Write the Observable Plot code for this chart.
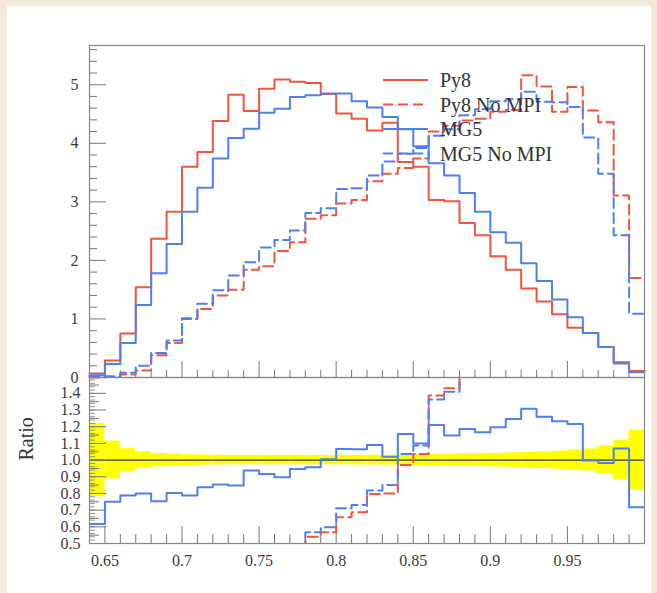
<!DOCTYPE html>
<html><head><meta charset="utf-8">
<script src="https://cdn.jsdelivr.net/npm/d3@7"></script>
<script src="https://cdn.jsdelivr.net/npm/@observablehq/plot@0.6"></script>
<style>
html,body{margin:0;padding:0;background:#f4eadc;}
#page{position:relative;width:657px;height:593px;background:#f4eadc;overflow:hidden;}
#panel{position:absolute;left:7px;top:6px;width:644px;height:587px;background:#fff;}
.layer{position:absolute;left:0;top:0;}
</style></head><body>
<div id="page"><div id="panel"></div></div>
<script>
// ---- data (bin lower edges, bin width 0.01) ----
const binLo = [0.64,0.65,0.66,0.67,0.68,0.69,0.70,0.71,0.72,0.73,0.74,0.75,0.76,0.77,0.78,0.79,0.80,0.81,0.82,0.83,0.84,0.85,0.86,0.87,0.88,0.89,0.90,0.91,0.92,0.93,0.94,0.95,0.96,0.97,0.98,0.99];
const xMax = 1.0;
const py8 = [0.07,0.29,0.75,1.54,2.37,2.83,3.60,3.85,4.38,4.83,4.55,4.93,5.09,5.05,5.03,4.84,4.51,4.42,4.22,4.35,3.68,3.60,3.03,3.01,2.64,2.43,2.07,1.84,1.52,1.30,1.08,0.85,0.76,0.52,0.26,0.11];
const py8NoMPI = [0.00,0.01,0.05,0.12,0.38,0.59,1.00,1.17,1.40,1.50,1.84,1.90,2.16,2.31,2.71,2.77,2.97,3.03,3.35,3.48,3.58,3.74,4.20,4.30,4.39,4.42,4.54,4.57,5.16,4.97,4.54,4.96,4.56,4.36,3.11,1.70];
const mg5 = [0.04,0.23,0.59,1.24,1.78,2.28,2.83,3.24,3.74,4.09,4.25,4.52,4.59,4.79,4.82,4.85,4.85,4.72,4.61,4.45,4.24,3.95,3.66,3.45,3.15,2.83,2.48,2.30,1.95,1.65,1.33,1.03,0.76,0.52,0.24,0.09];
const mg5NoMPI = [0.02,0.02,0.08,0.20,0.42,0.63,1.01,1.26,1.49,1.74,1.97,2.22,2.35,2.51,2.81,2.89,3.22,3.23,3.45,3.69,3.82,3.92,4.13,4.24,4.48,4.58,4.72,4.75,4.88,4.71,4.70,4.62,4.10,3.48,2.43,1.09];
// ratios to Py8
const ratioMG5 = [0.617,0.75,0.787,0.80,0.753,0.803,0.787,0.837,0.853,0.847,0.937,0.917,0.897,0.947,0.957,1.005,1.067,1.065,1.09,1.02,1.157,1.10,1.21,1.147,1.187,1.167,1.197,1.247,1.307,1.26,1.233,1.217,0.997,0.983,1.07,0.717];
const ratioPy8NoMPI = [0.00,0.03,0.07,0.08,0.16,0.21,0.28,0.30,0.32,0.31,0.40,0.39,0.42,0.46,0.54,0.567,0.657,0.687,0.797,0.80,0.971,1.037,1.387,1.43,1.66,1.82,2.19,2.48,3.39,3.82,4.20,5.84,6.00,8.38,11.96,15.45];
const ratioMG5NoMPI = [0.29,0.07,0.11,0.13,0.18,0.22,0.28,0.33,0.34,0.36,0.43,0.45,0.46,0.48,0.567,0.597,0.711,0.731,0.817,0.851,1.037,1.087,1.363,1.41,1.70,1.88,2.28,2.58,3.21,3.62,4.35,5.44,5.39,6.69,9.35,9.9];
const ratioErr = [0.22,0.113,0.068,0.05,0.04,0.035,0.032,0.03,0.029,0.028,0.028,0.028,0.028,0.028,0.028,0.028,0.028,0.029,0.029,0.03,0.031,0.032,0.033,0.035,0.037,0.039,0.041,0.044,0.047,0.05,0.054,0.06,0.066,0.085,0.12,0.18];
const legendLabels = ["Py8","Py8 No MPI","MG5","MG5 No MPI"];
const xTicks = [0.65,0.7,0.75,0.8,0.85,0.9,0.95];
const yTopTicks = [0,1,2,3,4,5];
const yRatioTicks = [0.5,0.6,0.7,0.8,0.9,1.0,1.1,1.2,1.3,1.4];

// ---- styles ----
const RED = "#f2553e", BLUE = "#4f7ff5", DASH = "10,5";
const FONT = "'Liberation Serif','Times New Roman',serif";
const W = 657, ML = 89, MR = 13;
const plotW = W - ML - MR;

const steps = vals => binLo.map((x,i)=>({x, y: vals[i]})).concat([{x: xMax, y: vals[vals.length-1]}]);
const xMinor = d3.range(1, 36).map(i => binLo[i]).filter(v => !xTicks.some(t => Math.abs(t - v) < 1e-6));
const topMinorY = d3.range(0.2, 5.67, 0.2).filter(v => Math.abs(v - Math.round(v)) > 1e-6);
const ratioMinorY = d3.range(0.52, 1.49, 0.02);
const ratioMidY = d3.range(0.55, 1.49, 0.1);

const page = document.getElementById("page");

// ---- top panel ----
const topH = 400, topMT = 45, topMB = 23, topInner = topH - topMT - topMB;
const topPlot = Plot.plot({
  width: W, height: topH,
  marginLeft: ML, marginRight: MR, marginTop: topMT, marginBottom: topMB,
  style: {background: "transparent", fontFamily: FONT, fontSize: "16px", color: "#3a3a3a"},
  x: {domain: [0.64, xMax], axis: null},
  y: {domain: [0, 5.67], ticks: yTopTicks, tickSize: 0, tickPadding: 11, tickFormat: d => String(d), label: null},
  marks: [
    Plot.tickX(xMinor, {x: d => d, insetTop: topInner - 7, stroke: "#777", strokeWidth: 1}),
    Plot.tickX(xTicks, {x: d => d, insetTop: topInner - 16, stroke: "#777", strokeWidth: 1}),
    Plot.tickY(topMinorY, {y: d => d, insetRight: plotW - 8, stroke: "#777", strokeWidth: 1}),
    Plot.tickY(yTopTicks, {y: d => d, insetRight: plotW - 17, stroke: "#777", strokeWidth: 1}),
    Plot.line(steps(py8NoMPI), {x: "x", y: "y", curve: "step-after", stroke: RED, strokeWidth: 2, strokeDasharray: DASH}),
    Plot.line(steps(mg5NoMPI), {x: "x", y: "y", curve: "step-after", stroke: BLUE, strokeWidth: 2, strokeDasharray: DASH}),
    Plot.line(steps(py8), {x: "x", y: "y", curve: "step-after", stroke: RED, strokeWidth: 2}),
    Plot.line(steps(mg5), {x: "x", y: "y", curve: "step-after", stroke: BLUE, strokeWidth: 2}),
    Plot.frame({stroke: "#888", strokeWidth: 1.2})
  ]
});
topPlot.classList.add("layer");
page.appendChild(topPlot);

// ---- ratio panel ----
const botH = 593, botMT = 377, botMB = 50, botInner = botH - botMT - botMB;
const band = binLo.map((x,i) => ({x1: x, x2: i < binLo.length-1 ? binLo[i+1] : xMax, lo: 1 - ratioErr[i], hi: 1 + ratioErr[i]}));
const botPlot = Plot.plot({
  width: W, height: botH,
  marginLeft: ML, marginRight: MR, marginTop: botMT, marginBottom: botMB,
  style: {background: "transparent", fontFamily: FONT, fontSize: "16px", color: "#3a3a3a"},
  x: {domain: [0.64, xMax], ticks: xTicks, tickSize: 0, tickPadding: 11, tickFormat: d => String(d), label: null},
  y: {domain: [0.5, 1.495], ticks: yRatioTicks, tickSize: 0, tickPadding: 9, tickFormat: d => d.toFixed(1), label: null},
  marks: [
    Plot.rect(band, {x1: "x1", x2: "x2", y1: "lo", y2: "hi", fill: "#ffff00"}),
    Plot.ruleY([1], {stroke: "#333", strokeWidth: 1.2}),
    Plot.tickX(xMinor, {x: d => d, insetTop: botInner - 9, stroke: "#777", strokeWidth: 1}),
    Plot.tickX(xTicks, {x: d => d, insetTop: botInner - 17, stroke: "#777", strokeWidth: 1}),
    Plot.tickY(ratioMinorY, {y: d => d, insetRight: plotW - 6, stroke: "#777", strokeWidth: 0.8}),
    Plot.tickY(ratioMidY, {y: d => d, insetRight: plotW - 10, stroke: "#777", strokeWidth: 1}),
    Plot.tickY(yRatioTicks, {y: d => d, insetRight: plotW - 17, stroke: "#777", strokeWidth: 1}),
    Plot.line(steps(ratioPy8NoMPI), {x: "x", y: "y", curve: "step-after", stroke: RED, strokeWidth: 2, strokeDasharray: DASH, clip: true}),
    Plot.line(steps(ratioMG5NoMPI), {x: "x", y: "y", curve: "step-after", stroke: BLUE, strokeWidth: 2, strokeDasharray: DASH, clip: true}),
    Plot.line(steps(ratioMG5), {x: "x", y: "y", curve: "step-after", stroke: BLUE, strokeWidth: 2, clip: true}),
    Plot.text(["Ratio"], {frameAnchor: "left", dx: -63, rotate: -90, fontSize: 20, fill: "#333", text: d => d}),
    Plot.frame({stroke: "#888", strokeWidth: 1.2})
  ]
});
botPlot.classList.add("layer");
page.appendChild(botPlot);

// ---- legend overlay ----
const legendStyle = [
  {color: RED, dash: null}, {color: RED, dash: DASH},
  {color: BLUE, dash: null}, {color: BLUE, dash: DASH}
];
const lg = d3.select(page).append("svg").attr("class", "layer").attr("width", W).attr("height", 200);
legendLabels.forEach((label, i) => {
  const y = 80 + i * 24.5;
  const s = legendStyle[i];
  lg.append("line").attr("x1", 383).attr("x2", 428).attr("y1", y).attr("y2", y)
    .attr("stroke", s.color).attr("stroke-width", 2).attr("stroke-dasharray", s.dash);
  lg.append("text").attr("x", 440).attr("y", y).attr("dy", "0.35em")
    .attr("font-family", FONT).attr("font-size", 20).attr("fill", "#333").text(label);
});
</script>
</body></html>
